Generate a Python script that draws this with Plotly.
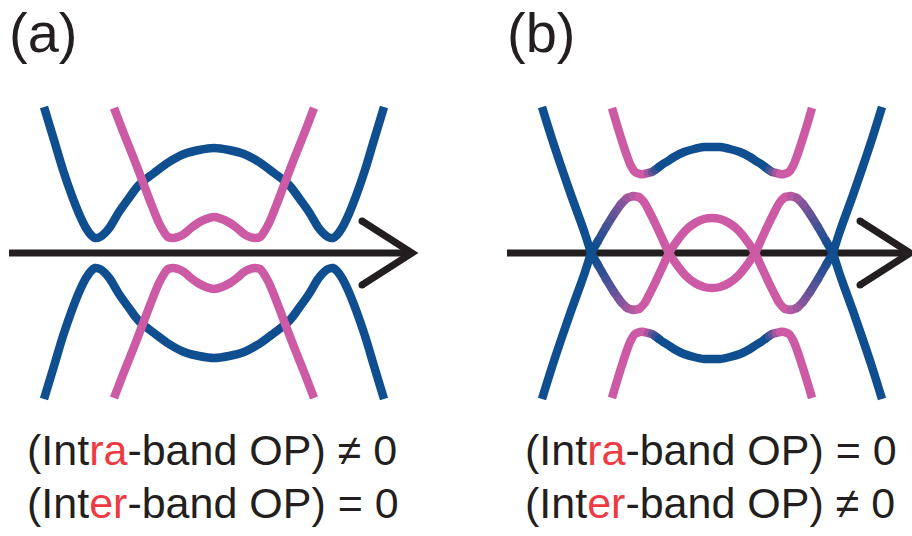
import plotly.graph_objects as go

# ---- band control points (k, E), left half; every band is symmetric in k ----
# panel (a): intra-band order parameter, gapped Bogoliubov bands
A_BLUE_K = [-170, -160, -151, -142, -134, -128, -123, -119, -114, -109, -104,
            -95, -85, -75, -60, -45, -30, -15, 0]
A_BLUE_E = [146, 113, 83, 57, 37, 25, 18, 15, 16, 20, 26,
            41, 55, 68, 80, 91, 99, 103, 105]
A_PINK_K = [-100, -90, -80, -70, -62, -55, -50, -46, -41, -36, -30, -23, -16, -8, 0]
A_PINK_E = [145, 119, 94, 68, 47, 30, 21, 16, 15, 16, 19, 25, 30, 34, 36]

# panel (b): inter-band order parameter
# outer band: from the lower left through the X crossing, over the hump, into the central trough
B_OUTER_K = [-170, -160, -150, -141, -133, -127, -121, -114, -106, -98, -91, -85,
             -79, -73, -68, -63, -57, -50, -43, -35, -26, -17, -8, 0]
B_OUTER_E = [-146, -114, -84, -58, -36, -19, 0, 12, 26, 39, 49, 55,
             57, 56, 51, 42, 30, 15, 0, -12, -23, -30, -34, -35]
# inner gapped band (upper branch)
B_INNER_K = [-100, -95, -90, -85, -81, -77, -72, -68, -64, -60, -57, -53, -49,
             -44, -38, -28, -18, -8, 0]
B_INNER_E = [145, 128, 112, 97, 87, 81, 79, 79, 80, 81, 83, 86, 89,
             92, 96, 101, 104, 106, 106]

# momentum axis with arrow head
AXIS_K = [-205, 198]
AXIS_E = [0, 0]
HEAD_K = [148, 198, 148]
HEAD_E = [32, 0, -32]

# text
PANEL_LABELS = ["(a)", "(b)"]
INTRA_LINES = ["≠ 0", "= 0"]
INTER_LINES = ["= 0", "≠ 0"]

# ---- styles ----
BLUE = (15, 78, 143)
PINK = (204, 90, 164)
INK = "#231f20"
RED = "#ee3b43"
LW = 8.5
AXIS_W = 7
FONT = "Liberation Sans, Arial, Helvetica, sans-serif"


def rgb(c):
    return "rgb(%d,%d,%d)" % tuple(round(v) for v in c)


def mix(t):
    return tuple(BLUE[i] + (PINK[i] - BLUE[i]) * t for i in range(3))


def full(ks, es, flip=False):
    k = list(ks) + [-v for v in reversed(ks[:-1])]
    e = list(es) + list(reversed(es[:-1]))
    if flip:
        e = [-v for v in e]
    return k, e


def ramp(k_blue, k_pink):
    """pinkness as a function of |k|, linear between the two limits"""
    def f(k):
        a = abs(k)
        t = (a - k_blue) / (k_pink - k_blue)
        return min(1.0, max(0.0, t))
    return f


fig = go.Figure()


def add_curve(ks, es, xaxis, tfun):
    # split into runs of equal colour; gradient sections become short pieces
    segs = []
    for i in range(len(ks) - 1):
        t = round(tfun(0.5 * (ks[i] + ks[i + 1])), 3)
        segs.append(t)
    runs = []
    start = 0
    for i in range(1, len(segs) + 1):
        if i == len(segs) or segs[i] != segs[start]:
            runs.append((start, i, segs[start]))
            start = i
    for a, b, t in runs:
        fig.add_trace(go.Scatter(
            x=ks[a:b + 1], y=es[a:b + 1], xaxis=xaxis, yaxis="y",
            mode="lines", line=dict(color=rgb(mix(t)), width=LW, shape="spline"),
            hoverinfo="skip"))
    # round joints between differently coloured pieces
    jx, jy, jc = [], [], []
    for a, b, t in runs[1:]:
        jx.append(ks[a])
        jy.append(es[a])
        jc.append(rgb(mix(tfun(ks[a]))))
    if jx:
        fig.add_trace(go.Scatter(
            x=jx, y=jy, xaxis=xaxis, yaxis="y", mode="markers",
            marker=dict(size=LW, color=jc, line=dict(width=0)), hoverinfo="skip"))


def add_axis(xaxis):
    fig.add_trace(go.Scatter(x=AXIS_K, y=AXIS_E, xaxis=xaxis, yaxis="y", mode="lines",
                             line=dict(color=INK, width=AXIS_W), hoverinfo="skip"))
    fig.add_trace(go.Scatter(x=HEAD_K, y=HEAD_E, xaxis=xaxis, yaxis="y", mode="lines",
                             line=dict(color=INK, width=AXIS_W), hoverinfo="skip"))
    fig.add_trace(go.Scatter(x=[HEAD_K[0], HEAD_K[2]], y=[HEAD_E[0], HEAD_E[2]],
                             xaxis=xaxis, yaxis="y", mode="markers",
                             marker=dict(size=AXIS_W, color=INK, line=dict(width=0)),
                             hoverinfo="skip"))


blue_only = lambda k: 0.0
pink_only = lambda k: 1.0

# panel (a)
add_axis("x")
for flip in (False, True):
    k, e = full(A_BLUE_K, A_BLUE_E, flip)
    add_curve(k, e, "x", blue_only)
for flip in (False, True):
    k, e = full(A_PINK_K, A_PINK_E, flip)
    add_curve(k, e, "x", pink_only)

# panel (b)
add_axis("x2")
for flip in (False, True):
    k, e = full(B_INNER_K, B_INNER_E, flip)
    add_curve(k, e, "x2", ramp(54, 67))
for flip in (False, True):
    k, e = full(B_OUTER_K, B_OUTER_E, flip)
    add_curve(k, e, "x2", ramp(118, 74))

# labels
annotations = []
for ref, lab, intra, inter in zip(["x", "x2"], PANEL_LABELS, INTRA_LINES, INTER_LINES):
    annotations.append(dict(xref=ref, yref="y", x=-206, y=253, text=lab,
                            showarrow=False, xanchor="left", yanchor="top",
                            borderpad=0,
                            font=dict(family=FONT, size=56, color=INK)))
    annotations.append(dict(
        xref=ref, yref="y", x=-189, y=-196.5,
        text="(Int<span style='color:%s'>ra</span>-band OP) %s" % (RED, intra),
        showarrow=False, xanchor="left", yanchor="middle",
        font=dict(family=FONT, size=43, color=INK)))
    annotations.append(dict(
        xref=ref, yref="y", x=-189, y=-249.5,
        text="(Int<span style='color:%s'>er</span>-band OP) %s" % (RED, inter),
        showarrow=False, xanchor="left", yanchor="middle",
        font=dict(family=FONT, size=43, color=INK)))

fig.update_layout(
    width=912, height=536,
    margin=dict(l=0, r=0, t=0, b=0, pad=0),
    paper_bgcolor="white", plot_bgcolor="white",
    showlegend=False,
    xaxis=dict(range=[-214, 698], visible=False, domain=[0, 1]),
    xaxis2=dict(range=[-712, 200], visible=False, overlaying="x", anchor="y"),
    yaxis=dict(range=[-283, 253], visible=False),
    annotations=annotations,
)

fig.write_html("out.html")
